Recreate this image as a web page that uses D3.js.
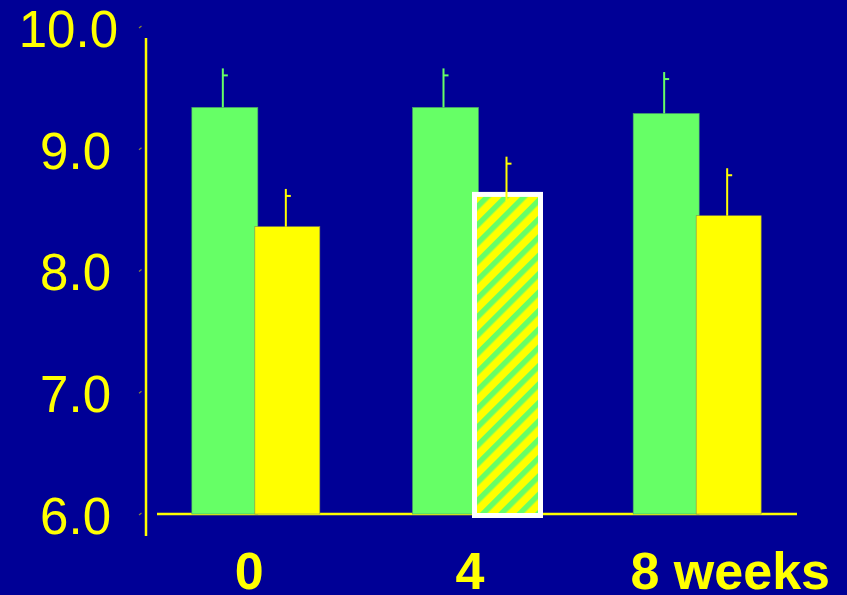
<!DOCTYPE html>
<html><head><meta charset="utf-8">
<script src="https://cdn.jsdelivr.net/npm/d3@7"></script>
<style>html,body{margin:0;padding:0;background:#000096;}svg{display:block;}</style>
</head><body>
<svg id="c" width="847" height="595"></svg>
<script>
const categories = ["0", "4", "8 weeks"];
const greenValues = [9.34, 9.34, 9.29];
const greenErrors = [0.32, 0.32, 0.34];
const yellowValues = [8.36, 8.625, 8.45];
const yellowErrors = [0.31, 0.31, 0.39];
const hatched = [false, true, false];
const yTicks = [6, 7, 8, 9, 10];
const yTickLabels = ["6.0", "7.0", "8.0", "9.0", "10.0"];

const W = 847, H = 595;
const BG = "#000096", GREEN = "#66ff66", YELLOW = "#ffff00";
const svg = d3.select("#c");
svg.append("rect").attr("width", W).attr("height", H).attr("fill", BG);

const defs = svg.append("defs");
const pat = defs.append("pattern").attr("id", "hatch").attr("patternUnits", "userSpaceOnUse")
  .attr("width", 13).attr("height", 13).attr("patternTransform", "rotate(45)");
pat.append("rect").attr("width", 13).attr("height", 13).attr("fill", YELLOW);
pat.append("rect").attr("width", 5.5).attr("height", 13).attr("fill", GREEN);

const y = d3.scaleLinear().domain([6, 10]).range([514, 27]);
const x = d3.scaleBand().domain(categories).range([146, 808]).padding(0);
const cx = c => x(c) + x.bandwidth() / 2;

// axes lines
svg.append("line").attr("x1", 146).attr("x2", 146).attr("y1", 38).attr("y2", 536)
  .attr("stroke", YELLOW).attr("stroke-width", 2.5);
svg.append("line").attr("x1", 157).attr("x2", 797).attr("y1", y(6)).attr("y2", y(6))
  .attr("stroke", YELLOW).attr("stroke-width", 2.5);

// small ticks
svg.selectAll(".tk").data(yTicks).enter().append("line")
  .attr("x1", 139).attr("x2", 141.5).attr("y1", d => y(d) + 1).attr("y2", d => y(d) - 1)
  .attr("stroke", "#8a8a30").attr("stroke-width", 1.2);

// y labels
svg.selectAll(".yl").data(yTicks).enter().append("text")
  .attr("x", (d, i) => yTickLabels[i].length > 3 ? 118 : 111)
  .attr("y", d => y(d) + 2).attr("dy", "0.35em")
  .attr("text-anchor", "end").attr("fill", YELLOW)
  .style("font-family", "Liberation Sans, Arial, sans-serif").style("font-size", "51px")
  .text((d, i) => yTickLabels[i]);

// bars
const greenX = c => cx(c) - 64.5;
const yellowX = c => cx(c) - 1.5;
const bw = 65;

categories.forEach((c, i) => {
  svg.append("rect").attr("x", greenX(c)).attr("y", y(greenValues[i]))
    .attr("width", 66).attr("height", y(6) - y(greenValues[i]))
    .attr("fill", GREEN).attr("stroke", "#4a9a6a").attr("stroke-width", 0.6);
  if (hatched[i]) {
    svg.append("rect").attr("x", yellowX(c) - 1).attr("y", y(yellowValues[i]))
      .attr("width", 66).attr("height", y(6) - y(yellowValues[i]) + 1.5)
      .attr("fill", "url(#hatch)").attr("stroke", "#ffffff").attr("stroke-width", 5);
  } else {
    svg.append("rect").attr("x", yellowX(c)).attr("y", y(yellowValues[i]))
      .attr("width", bw).attr("height", y(6) - y(yellowValues[i]))
      .attr("fill", YELLOW).attr("stroke", "#8a8a50").attr("stroke-width", 0.6);
  }
});

// error bars
function errBar(xp, v, e, col, extra) {
  const top = y(v + e);
  svg.append("line").attr("x1", xp).attr("x2", xp).attr("y1", top).attr("y2", y(v) + extra)
    .attr("stroke", col).attr("stroke-width", 2);
  svg.append("line").attr("x1", xp).attr("x2", xp + 5).attr("y1", top + 7).attr("y2", top + 7)
    .attr("stroke", col).attr("stroke-width", 2);
}
categories.forEach((c, i) => {
  errBar(greenX(c) + 31, greenValues[i], greenErrors[i], GREEN, 0);
  errBar(yellowX(c) + 31, yellowValues[i], yellowErrors[i], YELLOW, hatched[i] ? 7 : 0);
});

// x labels (last one right-aligned to the plot's right edge)
svg.selectAll(".xl").data(categories).enter().append("text")
  .attr("y", 589).attr("fill", YELLOW)
  .style("font-family", "Liberation Sans, Arial, sans-serif").style("font-size", "52px")
  .style("font-weight", "bold")
  .attr("text-anchor", (d, i) => i === categories.length - 1 ? "end" : "middle")
  .attr("x", (d, i) => i === categories.length - 1 ? 830 : cx(d) - 7)
  .text(d => d);
</script>
</body></html>
